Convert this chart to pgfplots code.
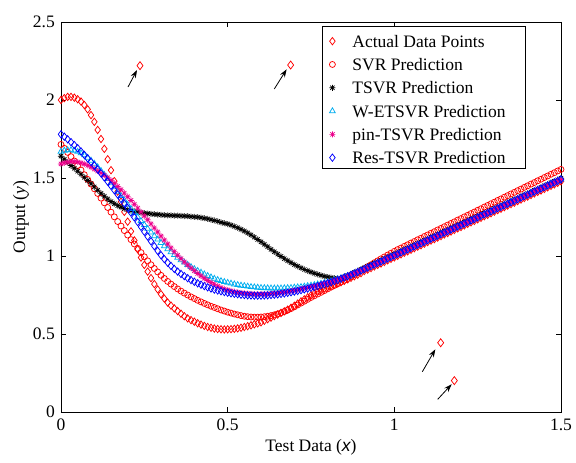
\documentclass[border=0pt]{standalone}
\usepackage{fontspec}
\setmainfont{Liberation Serif}
\newfontfamily\sansf{Liberation Sans}
\usepackage{pgfplots}
\pgfplotsset{compat=1.18}
\usepackage{pgfplotstable}
\usetikzlibrary{arrows.meta}
\newcommand\fs{\fontsize{17.5}{21}\selectfont}
\pgfdeclareplotmark{mstar}{%
  \pgfpathmoveto{\pgfqpoint{-\pgfplotmarksize}{0pt}}\pgfpathlineto{\pgfqpoint{\pgfplotmarksize}{0pt}}%
  \pgfpathmoveto{\pgfqpoint{0pt}{-\pgfplotmarksize}}\pgfpathlineto{\pgfqpoint{0pt}{\pgfplotmarksize}}%
  \pgfpathmoveto{\pgfqpoint{-0.707\pgfplotmarksize}{-0.707\pgfplotmarksize}}\pgfpathlineto{\pgfqpoint{0.707\pgfplotmarksize}{0.707\pgfplotmarksize}}%
  \pgfpathmoveto{\pgfqpoint{-0.707\pgfplotmarksize}{0.707\pgfplotmarksize}}\pgfpathlineto{\pgfqpoint{0.707\pgfplotmarksize}{-0.707\pgfplotmarksize}}%
  \pgfusepathqstroke}

\pgfplotstableread{
x A S T W P R
0.00 2.000 1.715 1.640 1.670 1.590 1.780
0.01 2.012 1.690 1.620 1.676 1.597 1.765
0.02 2.020 1.664 1.600 1.679 1.602 1.748
0.03 2.020 1.637 1.580 1.679 1.605 1.730
0.04 2.015 1.609 1.562 1.676 1.605 1.711
0.05 2.005 1.580 1.543 1.669 1.602 1.691
0.06 1.990 1.551 1.524 1.659 1.597 1.670
0.07 1.968 1.521 1.504 1.646 1.590 1.648
0.08 1.940 1.491 1.484 1.630 1.581 1.626
0.09 1.903 1.461 1.464 1.612 1.570 1.603
0.10 1.860 1.431 1.443 1.592 1.558 1.580
0.11 1.808 1.401 1.422 1.570 1.545 1.555
0.12 1.750 1.371 1.402 1.546 1.532 1.530
0.13 1.687 1.341 1.383 1.521 1.518 1.504
0.14 1.620 1.311 1.365 1.495 1.502 1.477
0.15 1.550 1.281 1.349 1.468 1.485 1.450
0.16 1.480 1.251 1.335 1.441 1.466 1.422
0.17 1.413 1.221 1.323 1.413 1.446 1.394
0.18 1.348 1.192 1.313 1.385 1.425 1.366
0.19 1.283 1.163 1.304 1.357 1.403 1.337
0.20 1.220 1.134 1.297 1.329 1.380 1.308
0.21 1.158 1.105 1.291 1.302 1.356 1.278
0.22 1.100 1.077 1.286 1.276 1.332 1.248
0.23 1.043 1.049 1.282 1.250 1.307 1.218
0.24 0.990 1.022 1.278 1.225 1.282 1.187
0.25 0.943 0.995 1.275 1.200 1.257 1.156
0.26 0.900 0.969 1.272 1.175 1.232 1.125
0.27 0.858 0.944 1.270 1.151 1.206 1.094
0.28 0.820 0.920 1.268 1.128 1.180 1.063
0.29 0.786 0.898 1.266 1.106 1.154 1.033
0.30 0.755 0.876 1.264 1.085 1.128 1.005
0.31 0.727 0.856 1.262 1.064 1.102 0.980
0.32 0.702 0.837 1.261 1.044 1.077 0.957
0.33 0.682 0.820 1.260 1.025 1.052 0.936
0.34 0.664 0.804 1.259 1.007 1.028 0.917
0.35 0.647 0.789 1.258 0.990 1.005 0.900
0.36 0.630 0.775 1.257 0.974 0.983 0.885
0.37 0.614 0.762 1.256 0.959 0.962 0.871
0.38 0.600 0.750 1.255 0.944 0.942 0.858
0.39 0.589 0.738 1.253 0.930 0.923 0.846
0.40 0.579 0.727 1.251 0.917 0.905 0.835
0.41 0.569 0.716 1.249 0.905 0.888 0.825
0.42 0.560 0.706 1.246 0.894 0.872 0.816
0.43 0.552 0.696 1.242 0.883 0.857 0.807
0.44 0.545 0.687 1.238 0.873 0.843 0.799
0.45 0.540 0.678 1.233 0.864 0.830 0.792
0.46 0.535 0.670 1.228 0.855 0.818 0.785
0.47 0.532 0.662 1.222 0.847 0.807 0.779
0.48 0.530 0.654 1.215 0.840 0.797 0.774
0.49 0.529 0.647 1.210 0.834 0.789 0.769
0.50 0.530 0.640 1.205 0.829 0.782 0.765
0.51 0.531 0.634 1.198 0.824 0.776 0.761
0.52 0.533 0.628 1.190 0.819 0.771 0.758
0.53 0.536 0.623 1.181 0.815 0.767 0.755
0.54 0.540 0.618 1.171 0.811 0.764 0.752
0.55 0.545 0.614 1.160 0.808 0.761 0.750
0.56 0.550 0.611 1.148 0.805 0.759 0.748
0.57 0.556 0.609 1.135 0.802 0.757 0.747
0.58 0.562 0.608 1.121 0.800 0.756 0.746
0.59 0.568 0.608 1.106 0.798 0.755 0.746
0.60 0.575 0.609 1.091 0.796 0.755 0.746
0.61 0.585 0.611 1.075 0.795 0.756 0.747
0.62 0.595 0.614 1.059 0.794 0.757 0.748
0.63 0.605 0.618 1.043 0.793 0.758 0.750
0.64 0.615 0.623 1.027 0.793 0.760 0.752
0.65 0.625 0.629 1.012 0.793 0.762 0.754
0.66 0.635 0.636 0.997 0.793 0.765 0.757
0.67 0.645 0.644 0.983 0.794 0.768 0.760
0.68 0.656 0.653 0.970 0.795 0.771 0.764
0.69 0.668 0.663 0.957 0.796 0.775 0.768
0.70 0.681 0.674 0.945 0.798 0.779 0.772
0.71 0.695 0.686 0.934 0.800 0.783 0.776
0.72 0.709 0.698 0.924 0.802 0.788 0.781
0.73 0.722 0.710 0.914 0.805 0.793 0.786
0.74 0.735 0.722 0.905 0.808 0.797 0.791
0.75 0.748 0.734 0.897 0.811 0.802 0.796
0.76 0.760 0.745 0.889 0.815 0.807 0.801
0.77 0.771 0.756 0.882 0.819 0.812 0.807
0.78 0.781 0.767 0.876 0.823 0.818 0.813
0.79 0.791 0.778 0.870 0.828 0.823 0.819
0.80 0.800 0.789 0.865 0.833 0.829 0.825
0.81 0.808 0.800 0.861 0.839 0.835 0.832
0.82 0.816 0.811 0.858 0.845 0.841 0.839
0.83 0.824 0.822 0.856 0.851 0.848 0.846
0.84 0.832 0.833 0.858 0.858 0.855 0.854
0.85 0.841 0.844 0.866 0.865 0.863 0.862
0.86 0.850 0.856 0.875 0.872 0.871 0.870
0.87 0.860 0.868 0.884 0.880 0.880 0.879
0.88 0.870 0.880 0.894 0.889 0.889 0.888
0.89 0.880 0.893 0.904 0.898 0.898 0.897
0.90 0.890 0.906 0.914 0.907 0.908 0.906
0.91 0.904 0.919 0.924 0.916 0.916 0.916
0.92 0.913 0.932 0.933 0.925 0.925 0.925
0.93 0.923 0.944 0.943 0.935 0.935 0.935
0.94 0.933 0.957 0.953 0.945 0.945 0.945
0.95 0.943 0.969 0.963 0.955 0.955 0.955
0.96 0.952 0.982 0.972 0.964 0.964 0.964
0.97 0.962 0.994 0.982 0.974 0.974 0.974
0.98 0.972 1.006 0.992 0.984 0.984 0.984
0.99 0.982 1.018 1.002 0.994 0.994 0.994
1.00 0.991 1.030 1.011 1.003 1.003 1.003
1.01 1.001 1.041 1.021 1.013 1.013 1.013
1.02 1.011 1.051 1.031 1.023 1.023 1.023
1.03 1.021 1.062 1.041 1.033 1.033 1.033
1.04 1.030 1.072 1.050 1.042 1.042 1.042
1.05 1.040 1.083 1.060 1.052 1.052 1.052
1.06 1.050 1.093 1.070 1.062 1.062 1.062
1.07 1.060 1.104 1.080 1.072 1.072 1.072
1.08 1.069 1.114 1.089 1.081 1.081 1.081
1.09 1.079 1.125 1.099 1.091 1.091 1.091
1.10 1.089 1.135 1.109 1.101 1.101 1.101
1.11 1.099 1.146 1.119 1.111 1.111 1.111
1.12 1.108 1.156 1.128 1.120 1.120 1.120
1.13 1.118 1.167 1.138 1.130 1.130 1.130
1.14 1.128 1.177 1.148 1.140 1.140 1.140
1.15 1.138 1.188 1.158 1.150 1.150 1.150
1.16 1.147 1.198 1.167 1.159 1.159 1.159
1.17 1.157 1.209 1.177 1.169 1.169 1.169
1.18 1.167 1.219 1.187 1.179 1.179 1.179
1.19 1.177 1.230 1.197 1.189 1.189 1.189
1.20 1.186 1.240 1.206 1.198 1.198 1.198
1.21 1.196 1.251 1.216 1.208 1.208 1.208
1.22 1.206 1.261 1.226 1.218 1.218 1.218
1.23 1.216 1.272 1.236 1.228 1.228 1.228
1.24 1.225 1.282 1.245 1.237 1.237 1.237
1.25 1.235 1.293 1.255 1.247 1.247 1.247
1.26 1.245 1.303 1.265 1.257 1.257 1.257
1.27 1.255 1.314 1.275 1.267 1.267 1.267
1.28 1.264 1.324 1.284 1.276 1.276 1.276
1.29 1.274 1.335 1.294 1.286 1.286 1.286
1.30 1.284 1.345 1.304 1.296 1.296 1.296
1.31 1.294 1.356 1.314 1.306 1.306 1.306
1.32 1.303 1.366 1.323 1.315 1.315 1.315
1.33 1.313 1.377 1.333 1.325 1.325 1.325
1.34 1.323 1.387 1.343 1.335 1.335 1.335
1.35 1.333 1.398 1.353 1.345 1.345 1.345
1.36 1.342 1.408 1.362 1.354 1.354 1.354
1.37 1.352 1.419 1.372 1.364 1.364 1.364
1.38 1.362 1.429 1.382 1.374 1.374 1.374
1.39 1.372 1.440 1.392 1.384 1.384 1.384
1.40 1.381 1.450 1.401 1.393 1.393 1.393
1.41 1.391 1.461 1.411 1.403 1.403 1.403
1.42 1.401 1.471 1.421 1.413 1.413 1.413
1.43 1.411 1.482 1.431 1.423 1.423 1.423
1.44 1.420 1.492 1.440 1.432 1.432 1.432
1.45 1.430 1.503 1.450 1.442 1.442 1.442
1.46 1.440 1.513 1.460 1.452 1.452 1.452
1.47 1.450 1.524 1.470 1.462 1.462 1.462
1.48 1.459 1.534 1.479 1.471 1.471 1.471
1.49 1.469 1.545 1.489 1.481 1.481 1.481
1.50 1.479 1.555 1.499 1.491 1.491 1.491
}\datatable

\begin{document}
\begin{tikzpicture}
\begin{axis}[
  scale only axis, width=500pt, height=390pt,
  xmin=0, xmax=1.5, ymin=0, ymax=2.5,
  xtick={0,0.5,1,1.5}, ytick={0,0.5,1,1.5,2,2.5},
  tick align=inside, major tick length=5pt,
  axis line style={line width=0.8pt},
  every tick/.style={black, line width=0.7pt},
  clip=false,
  /pgf/number format/assume math mode=true,
  /pgf/number format/fixed,
  tick label style={font=\fs},
  label style={font=\fs},
  xticklabel style={inner sep=0pt, yshift=-7pt},
  yticklabel style={inner sep=0pt, xshift=-6pt},
  xlabel={Test Data ({\sansf\itshape x})},
  ylabel={Output (\textit{y})},
  xlabel style={at={(axis description cs:0.5,-0.09)}, anchor=center},
  ylabel style={at={(axis description cs:-0.08,0.5)}, anchor=center},
  legend cell align=left,
  legend style={at={(axis description cs:0.522,0.9897)}, anchor=north west,
    draw=black, line width=0.8pt, fill=white, font=\fs,
    inner xsep=0pt, inner ysep=2pt, row sep=1.8pt,
    nodes={inner sep=0pt, text height=18.7pt, text depth=2.8pt}},
  legend image code/.code={%
    \path[draw=none,fill=none] (0pt,0pt) rectangle (30pt,0.1pt);
    \draw[#1] plot coordinates {(10pt,-2pt)};},
]
\addplot[only marks, red, mark=diamond, mark size=3.7pt, mark options={line width=0.75pt}] table[x=x,y=A] {\datatable};
\addlegendentry{Actual Data Points\hspace*{20pt}}
\addplot[only marks, red, mark=o, mark size=3pt, mark options={line width=0.75pt}] table[x=x,y=S] {\datatable};
\addlegendentry{SVR Prediction\hspace*{20pt}}
\addplot[only marks, black, mark=mstar, mark size=3pt, mark options={line width=0.7pt}] table[x=x,y=T] {\datatable};
\addlegendentry{TSVR Prediction\hspace*{20pt}}
\addplot[only marks, cyan, mark=triangle, mark size=3.3pt, mark options={line width=0.75pt}] table[x=x,y=W] {\datatable};
\addlegendentry{W-ETSVR Prediction\hspace*{20pt}}
\addplot[only marks, magenta, mark=mstar, mark size=3pt, mark options={line width=0.7pt}] table[x=x,y=P] {\datatable};
\addlegendentry{pin-TSVR Prediction\hspace*{20pt}}
\addplot[only marks, blue, mark=diamond, mark size=3.7pt, mark options={line width=0.75pt}] table[x=x,y=R] {\datatable};
\addlegendentry{Res-TSVR Prediction\hspace*{20pt}}
\addplot[only marks, red, mark=diamond, mark size=4pt, mark options={line width=0.75pt}, forget plot] coordinates {(0.237,2.220) (0.689,2.224) (1.139,0.444) (1.180,0.201)};
\draw[-{Stealth[length=8pt,width=5.5pt]}, line width=0.8pt] (axis cs:0.201,2.083) -- (axis cs:0.228,2.192);
\draw[-{Stealth[length=8pt,width=5.5pt]}, line width=0.8pt] (axis cs:0.640,2.071) -- (axis cs:0.677,2.197);
\draw[-{Stealth[length=8pt,width=5.5pt]}, line width=0.8pt] (axis cs:1.084,0.258) -- (axis cs:1.123,0.402);
\draw[-{Stealth[length=8pt,width=5.5pt]}, line width=0.8pt] (axis cs:1.130,0.081) -- (axis cs:1.172,0.178);
\end{axis}
\pgfresetboundingbox
\path ([xshift=-61pt,yshift=-51pt]current axis.south west) rectangle ([xshift=15pt,yshift=22pt]current axis.north east);
\end{tikzpicture}
\end{document}
